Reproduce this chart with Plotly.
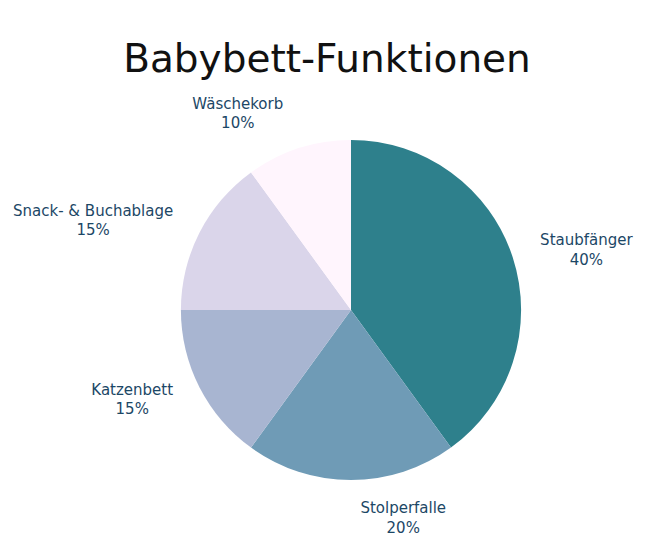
import plotly.graph_objects as go

# Data
labels = ["Staubfänger", "Stolperfalle", "Katzenbett", "Snack- & Buchablage", "Wäschekorb"]
values = [40, 20, 15, 15, 10]
colors = ["#2E808C", "#6F9BB6", "#A8B5D1", "#DAD5EA", "#FFF5FD"]

fig = go.Figure()

# main pie, no text
fig.add_trace(go.Pie(
    labels=labels,
    values=values,
    sort=False,
    direction="clockwise",
    rotation=0,
    marker=dict(colors=colors, line=dict(width=0)),
    textinfo="none",
    showlegend=False,
    domain=dict(x=[0.05, 0.95], y=[0.05, 0.95]),
))

# transparent, larger pie just to carry the outside labels further out
fig.add_trace(go.Pie(
    labels=labels,
    values=values,
    sort=False,
    direction="clockwise",
    rotation=0,
    marker=dict(colors=["rgba(0,0,0,0)"] * len(values), line=dict(width=0)),
    textinfo="label+percent",
    textposition="outside",
    outsidetextfont=dict(family="DejaVu Sans", size=15, color="#1C4766"),
    hoverinfo="skip",
    showlegend=False,
    domain=dict(x=[0, 1], y=[0, 1]),
))

fig.update_layout(
    width=650,
    height=543,
    margin=dict(l=152, r=118, t=112, b=51),
    paper_bgcolor="white",
    plot_bgcolor="white",
    title=dict(
        text="Babybett-Funktionen",
        font=dict(family="DejaVu Sans", size=39, color="#111111"),
        x=319 / 650, xref="container", xanchor="center",
        y=1 - 50 / 543, yref="container", yanchor="middle",
    ),
)

fig.write_html("out.html")
